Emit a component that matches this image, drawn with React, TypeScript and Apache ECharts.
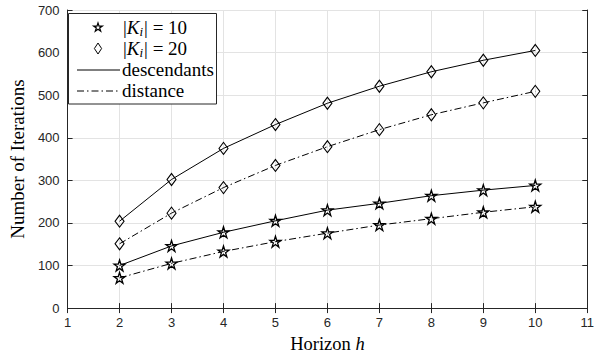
import React, { useEffect, useRef } from "react";
import * as echarts from "echarts";

const horizons = [2, 3, 4, 5, 6, 7, 8, 9, 10];
const k10Descendants = [100, 146, 178, 205, 230, 246, 264, 277, 288];
const k10Distance = [71, 105, 133, 156, 176, 195, 210, 225, 238];
const k20Descendants = [204, 302, 375, 431, 481, 521, 555, 582, 605];
const k20Distance = [151, 223, 283, 335, 379, 419, 454, 482, 509];
const xTicks = [1, 11, 1];
const yTicks = [0, 700, 100];

const STAR =
  "path://M50 0 L61.2 34.5 L97.6 34.5 L68.2 55.9 L79.4 90.5 L50 69.1 L20.6 90.5 L31.8 55.9 L2.4 34.5 L38.8 34.5 Z";
const DASHDOT = [7, 3, 1.5, 3];
const SERIF = "'Liberation Serif', 'DejaVu Serif', serif";
const SANS = "'Liberation Sans', Arial, sans-serif";

function pairs(vals: number[]) {
  return horizons.map((h, i) => [h, vals[i]]);
}

function starPoints(cx: number, cy: number, R: number) {
  const pts: number[][] = [];
  for (let k = 0; k < 10; k++) {
    const ang = ((-90 + k * 36) * Math.PI) / 180;
    const r = k % 2 === 0 ? R : R * 0.382;
    pts.push([cx + r * Math.cos(ang), cy + r * Math.sin(ang)]);
  }
  return pts;
}

function mkSeries(name: string, vals: number[], symbol: string, size: any, dashed: boolean, bw: number) {
  return {
    name,
    type: "line",
    data: pairs(vals),
    symbol,
    symbolSize: size,
    showAllSymbol: true,
    lineStyle: { color: "#000", width: 1, type: dashed ? DASHDOT : "solid" },
    itemStyle: { color: "rgba(255,255,255,0)", borderColor: "#000", borderWidth: bw },
    emphasis: { disabled: true },
    z: 3,
  };
}

export default function App() {
  const ref = useRef<HTMLDivElement>(null);
  useEffect(() => {
    if (!ref.current) return;
    const chart = echarts.init(ref.current, undefined, { renderer: "svg" });
    const axisCommon = {
      axisLine: { show: true, lineStyle: { color: "#262626", width: 1 } },
      axisTick: { show: true, inside: true, length: 5, lineStyle: { color: "#262626" } },
    };
    const richLabel = {
      r: { fontFamily: SERIF, fontSize: 18.5, color: "#000" },
      i: { fontFamily: SERIF, fontSize: 18.5, fontStyle: "italic", color: "#000" },
    };
    const kRich = {
      r: { fontFamily: SERIF, fontSize: 19, lineHeight: 22, color: "#000" },
      i: { fontFamily: SERIF, fontSize: 19, lineHeight: 22, fontStyle: "italic", color: "#000" },
      s: { fontFamily: SERIF, fontSize: 13, lineHeight: 13, fontStyle: "italic", color: "#000", verticalAlign: "bottom", padding: [0, 1, 0, 0] },
    };
    const Z = 100;
    chart.setOption({
      animation: false,
      backgroundColor: "#fff",
      grid: { left: 64, right: 4.5, top: 10, bottom: 47, containLabel: false },
      xAxis: [
        {
          type: "value",
          min: xTicks[0],
          max: xTicks[1],
          interval: xTicks[2],
          position: "bottom",
          ...axisCommon,
          axisLabel: { fontFamily: SANS, fontSize: 13, color: "#262626", margin: 8 },
          splitLine: { show: true, lineStyle: { color: "#e3e3e3", width: 1 } },
          name: "{r|Horizon }{i|h}",
          nameLocation: "middle",
          nameGap: 17,
          nameTextStyle: { rich: richLabel },
        },
        {
          type: "value",
          min: xTicks[0],
          max: xTicks[1],
          interval: xTicks[2],
          position: "top",
          ...axisCommon,
          axisLabel: { show: false },
          splitLine: { show: false },
        },
      ],
      yAxis: [
        {
          type: "value",
          min: yTicks[0],
          max: yTicks[1],
          interval: yTicks[2],
          position: "left",
          ...axisCommon,
          axisLabel: { fontFamily: SANS, fontSize: 13, color: "#262626", margin: 8 },
          splitLine: { show: true, lineStyle: { color: "#e3e3e3", width: 1 } },
          name: "Number of Iterations",
          nameLocation: "middle",
          nameGap: 33,
          nameTextStyle: { fontFamily: SERIF, fontSize: 19, color: "#000" },
        },
        {
          type: "value",
          min: yTicks[0],
          max: yTicks[1],
          interval: yTicks[2],
          position: "right",
          ...axisCommon,
          axisLabel: { show: false },
          splitLine: { show: false },
        },
      ],
      series: [
        mkSeries("K10 descendants", k10Descendants, STAR, 11, false, 1.3),
        mkSeries("K10 distance", k10Distance, STAR, 11, true, 1.3),
        mkSeries("K20 descendants", k20Descendants, "diamond", [9, 12], false, 1.1),
        mkSeries("K20 distance", k20Distance, "diamond", [9, 12], true, 1.1),
      ],
      graphic: [
        {
          type: "rect",
          z: Z,
          shape: { x: 68.5, y: 13.5, width: 148, height: 90.5 },
          style: { fill: "#fff", stroke: "#262626", lineWidth: 1 },
        },
        {
          type: "polygon",
          z: Z + 1,
          shape: { points: starPoints(98, 27.5, 4.6) },
          style: { fill: "none", stroke: "#000", lineWidth: 1.2 },
        },
        {
          type: "polygon",
          z: Z + 1,
          shape: { points: [[98, 43], [101.6, 48.5], [98, 54], [94.4, 48.5]] },
          style: { fill: "none", stroke: "#000", lineWidth: 1 },
        },
        {
          type: "text",
          z: Z + 1,
          x: 123,
          y: 27,
          style: { text: "{r||}{i|K}{s|i}{r|| = 10}", rich: kRich, verticalAlign: "middle" },
        },
        {
          type: "text",
          z: Z + 1,
          x: 123,
          y: 48,
          style: { text: "{r||}{i|K}{s|i}{r|| = 20}", rich: kRich, verticalAlign: "middle" },
        },
        {
          type: "line",
          z: Z + 1,
          shape: { x1: 77, y1: 70, x2: 120, y2: 70 },
          style: { stroke: "#000", lineWidth: 1 },
        },
        {
          type: "line",
          z: Z + 1,
          shape: { x1: 77, y1: 91, x2: 120, y2: 91 },
          style: { stroke: "#000", lineWidth: 1, lineDash: DASHDOT },
        },
        {
          type: "text",
          z: Z + 1,
          x: 122,
          y: 69,
          style: { text: "descendants", font: "19px " + SERIF, fill: "#000", verticalAlign: "middle" },
        },
        {
          type: "text",
          z: Z + 1,
          x: 122,
          y: 90,
          style: { text: "distance", font: "19px " + SERIF, fill: "#000", verticalAlign: "middle" },
        },
      ],
    });
    return () => chart.dispose();
  }, []);
  return <div ref={ref} style={{ width: 597, height: 358, position: "absolute", left: 0, top: 0 }} />;
}
